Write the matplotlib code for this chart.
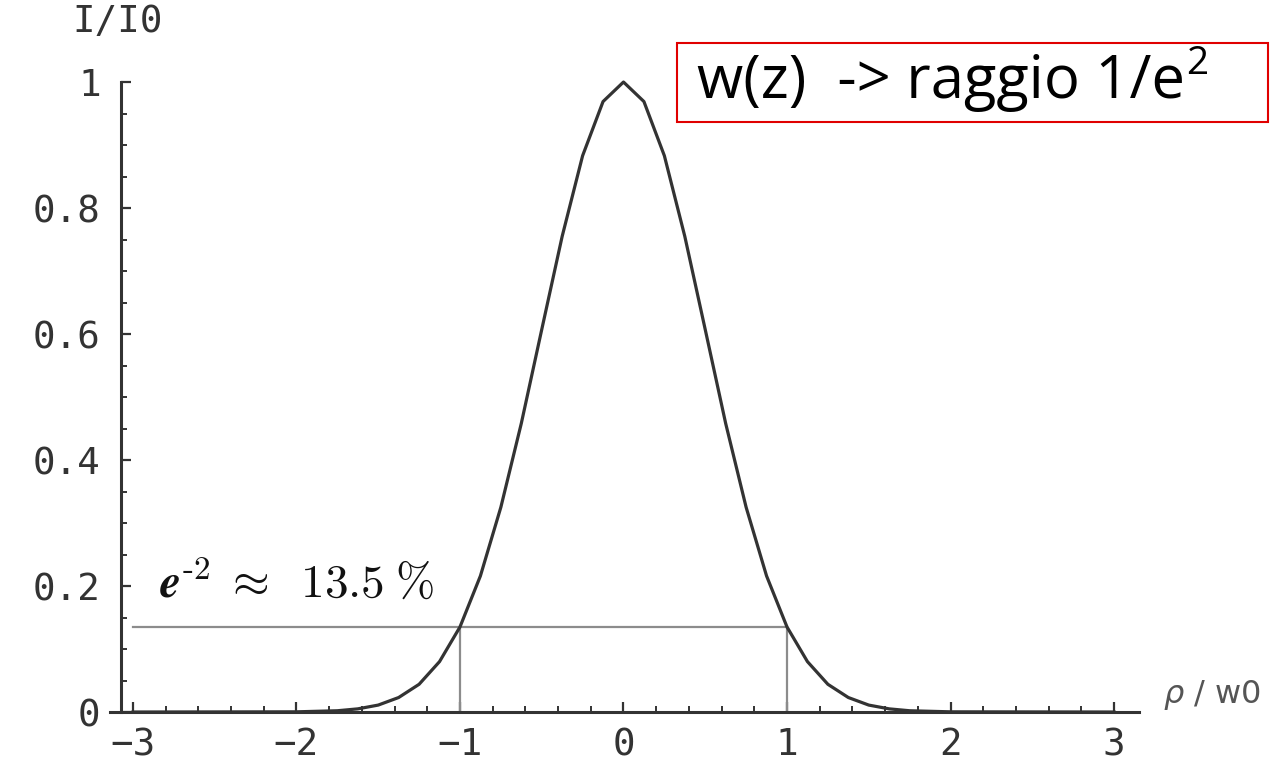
#gaussian beam intensity profile I/I0 vs rho/w0, with the 1/e^2 radius marked

import numpy as np
import matplotlib
matplotlib.use('Agg')
import matplotlib.pyplot as plt
from matplotlib.ticker import MultipleLocator
from matplotlib.patches import Rectangle

#values (symmetric curve)
rho = [-3.0, -2.0, -1.75, -1.625, -1.5, -1.375, -1.25, -1.125, -1.0, -0.875, -0.75,
       -0.625, -0.5, -0.375, -0.25, -0.125, 0.0, 0.125, 0.25, 0.375, 0.5, 0.625,
       0.75, 0.875, 1.0, 1.125, 1.25, 1.375, 1.5, 1.625, 1.75, 2.0, 3.0]
intensity = [0.0, 0.0003, 0.002, 0.005, 0.011, 0.023, 0.044, 0.080, 0.135, 0.216, 0.325,
             0.458, 0.607, 0.755, 0.883, 0.969, 1.0, 0.969, 0.883, 0.755, 0.607, 0.458,
             0.325, 0.216, 0.135, 0.080, 0.044, 0.023, 0.011, 0.005, 0.002, 0.0003, 0.0]
level = 0.135          # e^-2
radius = [-1.0, 1.0]   # rho/w0 where I/I0 = e^-2

xticks = [-3, -2, -1, 0, 1, 2, 3]
yticks = [0, 0.2, 0.4, 0.6, 0.8, 1]
ytick_labels = ['0', '0.2', '0.4', '0.6', '0.8', '1']
xtick_labels = ['\u22123', '\u22122', '\u22121', '0', '1', '2', '3']

plt.rcParams['mathtext.fontset'] = 'custom'
plt.rcParams['mathtext.rm'] = 'Open Sans'

mono = 'DejaVu Sans Mono'
dark = '#333333'

fig = plt.figure(figsize=(12.78, 7.68), dpi=100)
ax = fig.add_axes([0.0861, 0.0729, 0.8048, 0.8203])
ax.set_xlim(-3.14, 3.15)
ax.set_ylim(0, 1)

#marker lines for the 1/e^2 level
ax.plot([-3, radius[1]], [level, level], color='#8c8c8c', lw=1.6)
for r in radius:
    ax.plot([r, r], [0, level], color='#8c8c8c', lw=1.6)

ax.plot(rho, intensity, color=dark, lw=2.3, clip_on=False, zorder=3)

for s in ['top', 'right']:
    ax.spines[s].set_visible(False)
ax.spines['left'].set_position(('data', -3.07))
ax.spines['left'].set_linewidth(2.2)
ax.spines['bottom'].set_linewidth(2.2)
ax.spines['left'].set_color(dark)
ax.spines['bottom'].set_color(dark)

ax.set_xticks(xticks)
ax.set_xticklabels(xtick_labels, family=mono, fontsize=27, color=dark)
ax.set_yticks(yticks)
ax.set_yticklabels(ytick_labels, family=mono, fontsize=27, color=dark)
ax.xaxis.set_minor_locator(MultipleLocator(0.2))
ax.yaxis.set_minor_locator(MultipleLocator(0.05))
ax.tick_params(which='major', direction='in', length=7, width=1.6, color=dark)
ax.tick_params(which='minor', direction='in', length=4, width=1.4, color=dark)
ax.tick_params(axis='y', which='major', pad=15)
ax.tick_params(axis='x', which='major', pad=11)

fig.text(118 / 1278, 1 - 22 / 768, 'I/I0', family=mono, fontsize=27, color=dark,
         ha='center', va='center')
ax.text(3.3, 0.0, r'$\rho$ / w0', fontsize=23, color='#555555', ha='left', va='bottom',
        family='DejaVu Sans', clip_on=False)

ax.text(-2.84, 0.183, r'$\mathbfit{e}^{\text{-}2}\;\approx\;\;13.5\;\%$', fontsize=34,
        color='#111111', ha='left', va='baseline', math_fontfamily='cm')

#red box in the top right
fig.patches.append(Rectangle((677 / 1278, 1 - 122 / 768), 591 / 1278, 79 / 768,
                             transform=fig.transFigure, fc='white', ec='#e00000', lw=1.5))
t = fig.text(697 / 1278, 1 - 82 / 768, 'w(z)  -> raggio 1/e', family='Open Sans',
             fontsize=43, color='black', ha='left', va='center')
fig.canvas.draw()
bb = t.get_window_extent()
fig.text(bb.x1 / 1278 + 0.001, 1 - 64 / 768, '2', family='Open Sans',
         fontsize=28, color='black', ha='left', va='center')

fig.savefig('out.png', dpi=100)
